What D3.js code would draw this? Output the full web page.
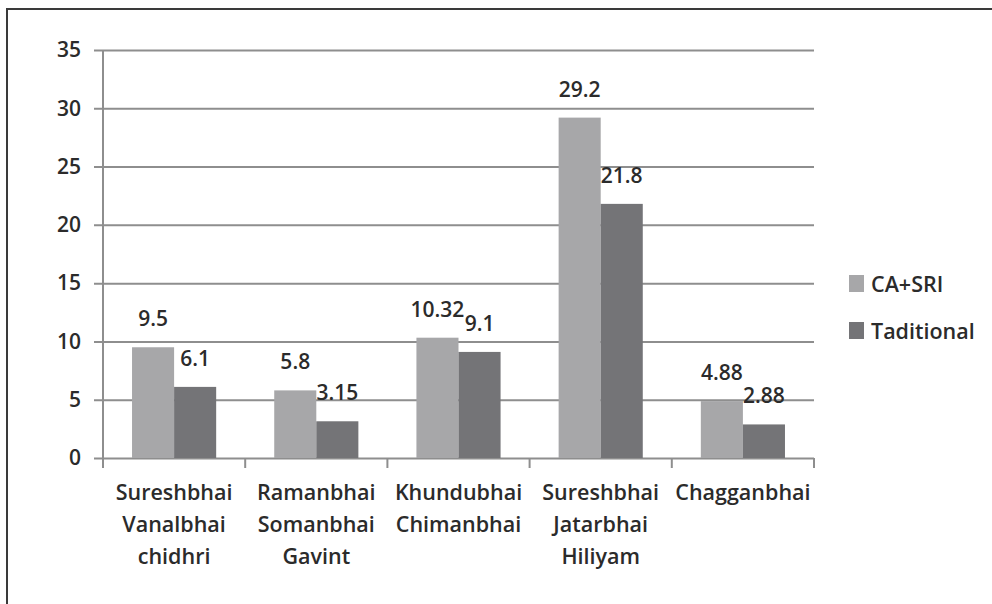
<!DOCTYPE html>
<html>
<head>
<meta charset="utf-8">
<script src="https://cdn.jsdelivr.net/npm/d3@7"></script>
<style>
  body { margin: 0; background: #fff; }
  text { font-family: "Open Sans", "DejaVu Sans", sans-serif; font-weight: 600; fill: #2b2b2b; }
</style>
</head>
<body>
<div id="chart"></div>
<script>
// data
const categories = [
    ["Sureshbhai", "Vanalbhai", "chidhri"],
    ["Ramanbhai", "Somanbhai", "Gavint"],
    ["Khundubhai", "Chimanbhai"],
    ["Sureshbhai", "Jatarbhai", "Hiliyam"],
    ["Chagganbhai"]
];
const seriesNames = ["CA+SRI", "Taditional"];
const caSri = [9.5, 5.8, 10.32, 29.2, 4.88];
const traditional = [6.1, 3.15, 9.1, 21.8, 2.88];
const yTicks = [0, 5, 10, 15, 20, 25, 30, 35];
const colors = ["#a7a7a9", "#747477"];

const width = 992, height = 604;
const margin = {top: 50, left: 103, right: 178, bottom: 146};
const innerW = width - margin.left - margin.right;
const innerH = height - margin.top - margin.bottom;

let svg = d3.select("#chart")
    .append("svg")
    .attr("width", width)
    .attr("height", height);

// frame: top and left edges only
svg.append("path")
    .attr("d", `M7,${height} V9 H${width}`)
    .attr("fill", "none")
    .attr("stroke", "#3a3a3a")
    .attr("stroke-width", 2);

let g = svg.append("g")
    .attr("transform", `translate(${margin.left}, ${margin.top})`);

let x = d3.scaleBand()
    .domain(d3.range(categories.length))
    .range([0, innerW]);

let x1 = d3.scaleBand()
    .domain(seriesNames)
    .range([0, x.bandwidth()])
    .paddingInner(0)
    .paddingOuter(0.69);

let y = d3.scaleLinear()
    .domain([0, 35])
    .range([innerH, 0]);

// y axis with gridlines
let yAxis = g.append("g")
    .call(d3.axisLeft(y).tickValues(yTicks).tickSize(-innerW - 9).tickPadding(22).tickSizeOuter(0));
yAxis.select(".domain").remove();
yAxis.selectAll(".tick line")
    .attr("x1", -9)
    .attr("x2", innerW)
    .attr("stroke", "#8e8e8e")
    .attr("stroke-width", 2);
yAxis.selectAll(".tick text")
    .attr("x", -22)
    .style("font-size", "21px")
    .attr("fill", "#2b2b2b");

g.append("line")
    .attr("x1", 0).attr("x2", 0)
    .attr("y1", 0).attr("y2", innerH)
    .attr("stroke", "#8e8e8e")
    .attr("stroke-width", 2);

// category ticks below the axis
g.selectAll(".ctick")
    .data(d3.range(categories.length + 1))
    .enter()
    .append("line")
    .attr("x1", d => d * x.step())
    .attr("x2", d => d * x.step())
    .attr("y1", innerH)
    .attr("y2", innerH + 10)
    .attr("stroke", "#8e8e8e")
    .attr("stroke-width", 2);

// bars
const table = categories.map((c, i) => ({i: i, values: [caSri[i], traditional[i]]}));

let groups = g.selectAll(".grp")
    .data(table)
    .enter()
    .append("g")
    .attr("transform", d => `translate(${x(d.i)}, 0)`);

groups.selectAll("rect")
    .data(d => d.values.map((v, k) => ({name: seriesNames[k], v: v, k: k})))
    .enter()
    .append("rect")
    .attr("x", d => x1(d.name))
    .attr("y", d => y(d.v))
    .attr("width", x1.bandwidth())
    .attr("height", d => innerH - y(d.v))
    .attr("fill", d => colors[d.k]);

groups.selectAll(".val")
    .data(d => d.values.map((v, k) => ({name: seriesNames[k], v: v})))
    .enter()
    .append("text")
    .attr("x", d => x1(d.name) + x1.bandwidth() / 2)
    .attr("y", d => y(d.v) - 21)
    .style("text-anchor", "middle")
    .style("font-size", "21px")
    .text(d => d.v);

// category labels
let labels = g.selectAll(".clabel")
    .data(categories)
    .enter()
    .append("text")
    .attr("x", (d, i) => x(i) + x.bandwidth() / 2)
    .attr("y", innerH + 42)
    .style("text-anchor", "middle")
    .style("font-size", "21.5px");

labels.selectAll("tspan")
    .data(d => d)
    .enter()
    .append("tspan")
    .attr("x", function() { return this.parentNode.getAttribute("x"); })
    .attr("dy", (d, i) => i === 0 ? 0 : 32)
    .text(d => d);

// legend
let legend = svg.append("g")
    .attr("transform", "translate(849, 275)");

let items = legend.selectAll("g")
    .data(seriesNames)
    .enter()
    .append("g")
    .attr("transform", (d, i) => `translate(0, ${i * 47})`);

items.append("rect")
    .attr("width", 15)
    .attr("height", 17)
    .attr("fill", (d, i) => colors[i]);

items.append("text")
    .attr("x", 22)
    .attr("y", 9)
    .attr("dy", "0.35em")
    .style("font-size", "21.5px")
    .text(d => d);
</script>
</body>
</html>
